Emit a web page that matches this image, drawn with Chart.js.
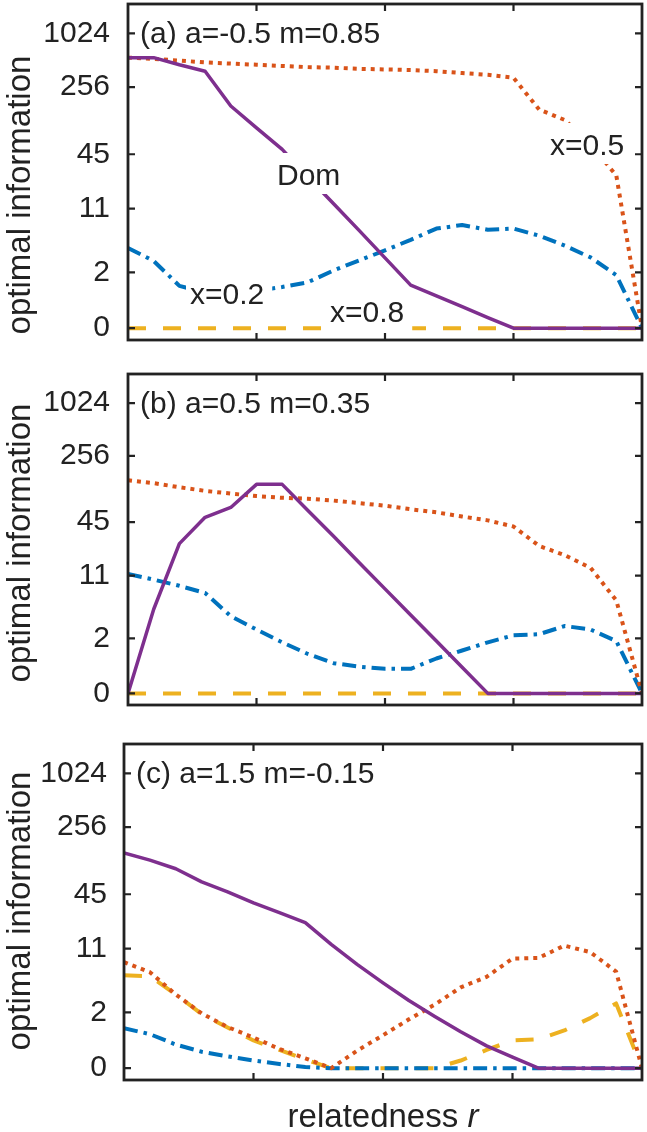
<!DOCTYPE html>
<html>
<head>
<meta charset="utf-8">
<script src="https://cdn.jsdelivr.net/npm/chart.js@4.4.0/dist/chart.umd.min.js"></script>
<style>
  body { margin: 0; background: #fff; width: 647px; height: 1132px; position: relative; overflow: hidden; }
  canvas { position: absolute; left: 0; }
</style>
</head>
<body>
<canvas id="panelA" width="647" height="360" style="top:0px"></canvas>
<canvas id="panelB" width="647" height="370" style="top:360px"></canvas>
<canvas id="panelC" width="647" height="402" style="top:730px"></canvas>
<script>
// x values (relatedness r) shared by every curve
const relatedness = [0, 0.05, 0.1, 0.15, 0.2, 0.25, 0.3, 0.35, 0.4, 0.45, 0.5,
                     0.55, 0.6, 0.65, 0.7, 0.75, 0.8, 0.85, 0.9, 0.95, 1];
const yTickValues = [0, 2, 11, 45, 256, 1024];
const xTickValues = [0.25, 0.5, 0.75];

// (a) a=-0.5 m=0.85
const domA = [548, 548, 456, 386, 157, 89, 51, 25, 12.5, 6.2, 3.0, 1.36, 0.94, 0.59, 0.28, 0, 0, 0, 0, 0, 0];
const x05A = [548, 531, 508, 485, 470, 456, 442, 429, 423, 410, 404, 398, 386, 368, 352, 326, 143, 109, 58, 26, 0];
const x02A = [3.92, 2.76, 1.33, 1.05, 1.05, 1.12, 1.28, 1.49, 2.12, 2.80, 3.68, 4.87, 6.54, 7.18, 6.35, 6.54, 5.43, 4.17, 3.04, 1.85, 0];
const x08A = [0, 0, 0, 0, 0, 0, 0, 0, 0, 0, 0, 0, 0, 0, 0, 0, 0, 0, 0, 0, 0];

// (b) a=0.5 m=0.35
const domB = [0, 4.5, 25.5, 51, 66, 121, 121, 61, 31, 15.4, 7.75, 3.86, 1.85, 0.74, 0, 0, 0, 0, 0, 0, 0];
const x05B = [135, 125, 112, 102, 95, 89, 85, 83, 79, 74, 69, 63, 58, 52, 47, 40, 24, 18.8, 13.5, 5.7, 0];
const x02B = [11.5, 9.9, 8.4, 6.95, 3.73, 2.58, 1.78, 1.23, 0.88, 0.76, 0.69, 0.69, 1.05, 1.38, 1.78, 2.19, 2.26, 2.85, 2.58, 1.85, 0];
const x08B = [0, 0, 0, 0, 0, 0, 0, 0, 0, 0, 0, 0, 0, 0, 0, 0, 0, 0, 0, 0, 0];

// (c) a=1.5 m=-0.15
const domC = [131, 109, 87, 62, 48, 36, 28, 21.6, 12.3, 7.3, 4.5, 2.8, 1.78, 1.09, 0.61, 0.29, 0, 0, 0, 0, 0];
const x05C = [7.75, 5.96, 3.29, 1.94, 1.28, 0.88, 0.52, 0.26, 0, 0.47, 0.96, 1.63, 2.5, 3.98, 5.27, 8.5, 8.63, 11.9, 10.06, 6.05, 0];
const x02C = [1.23, 1.0, 0.65, 0.44, 0.31, 0.2, 0.11, 0.03, 0, 0, 0, 0, 0, 0, 0, 0, 0, 0, 0, 0, 0];
const x08C = [5.5, 5.35, 3.29, 1.91, 1.26, 0.78, 0.49, 0.23, 0, 0, 0, 0, 0, 0.2, 0.49, 0.78, 0.82, 1.14, 1.69, 2.58, 0];

// Look
const INK = '#222222';
const FONT = '"Liberation Sans", Arial, sans-serif';
const PURPLE = '#7E2F8E';
const ORANGE = '#D95319';
const BLUE = '#0072BD';
const YELLOW = '#EDB120';

// y axis is asinh-scaled, like the original
const Y_TOP = Math.asinh(1024) * 1.1;
const Y_BOTTOM = -Math.asinh(1024) * 0.04;

function toPoints(values) {
    return values.map((v, i) => ({ x: relatedness[i], y: Math.asinh(v) }));
}

// frame, inward ticks, panel text and axis labels
const panelDecor = {
    id: 'panelDecor',
    afterDatasetsDraw(chart, args, opts) {
        const { ctx, chartArea: area, scales: { x, y } } = chart;
        ctx.save();

        ctx.font = '30px ' + FONT;
        ctx.textAlign = 'left';
        ctx.textBaseline = 'alphabetic';
        (opts.notes || []).forEach(n => {
            const w = ctx.measureText(n.text).width;
            ctx.fillStyle = '#fff';
            ctx.fillRect(n.x - 4, n.y - 32, w + 12, 41);
            ctx.fillStyle = INK;
            ctx.fillText(n.text, n.x, n.y);
        });
        ctx.fillStyle = INK;
        ctx.fillText(opts.tag, area.left + 12, area.top + 39);

        ctx.strokeStyle = INK;
        ctx.lineWidth = 2.2;
        ctx.beginPath();
        xTickValues.forEach(t => {
            const px = x.getPixelForValue(t);
            ctx.moveTo(px, area.bottom); ctx.lineTo(px, area.bottom - 7);
            ctx.moveTo(px, area.top); ctx.lineTo(px, area.top + 7);
        });
        yTickValues.forEach(v => {
            const py = y.getPixelForValue(Math.asinh(v));
            ctx.moveTo(area.left, py); ctx.lineTo(area.left + 7, py);
            ctx.moveTo(area.right, py); ctx.lineTo(area.right - 7, py);
        });
        ctx.stroke();

        ctx.lineWidth = 2.8;
        ctx.strokeRect(area.left, area.top, area.right - area.left, area.bottom - area.top);

        // y label
        ctx.save();
        ctx.translate(21, opts.ylabelY);
        ctx.rotate(-Math.PI / 2);
        ctx.font = '33px ' + FONT;
        ctx.textAlign = 'center';
        ctx.textBaseline = 'middle';
        ctx.fillText('optimal information', 0, 0);
        ctx.restore();

        // x label with italic r
        if (opts.xlabelY) {
            ctx.font = '33px ' + FONT;
            const a = 'relatedness ';
            const wa = ctx.measureText(a).width;
            ctx.font = 'italic 33px ' + FONT;
            const wb = ctx.measureText('r').width;
            const start = (area.left + area.right) / 2 - (wa + wb) / 2;
            ctx.font = '33px ' + FONT;
            ctx.fillText(a, start, opts.xlabelY);
            ctx.font = 'italic 33px ' + FONT;
            ctx.fillText('r', start + wa, opts.xlabelY);
        }
        ctx.restore();
    }
};

function makePanel(canvasId, frame, series, decor) {
    const canvas = document.getElementById(canvasId);
    const line = (values, color, width, dash, order) => ({
        data: toPoints(values),
        borderColor: color,
        borderWidth: width,
        borderDash: dash,
        borderCapStyle: 'butt',
        borderJoinStyle: 'round',
        pointRadius: 0,
        tension: 0,
        fill: false,
        order: order
    });

    return new Chart(canvas, {
        type: 'line',
        data: {
            datasets: [
                line(series.dom, PURPLE, 3.5, [], 0),
                line(series.x05, ORANGE, 4, [4, 5], 1),
                line(series.x02, BLUE, 4, [14, 6, 3.5, 6], 2),
                line(series.x08, YELLOW, 4, [18, 17], 3)
            ]
        },
        options: {
            responsive: false,
            animation: false,
            layout: {
                padding: { left: 0, right: canvas.width - 642, top: frame.top, bottom: canvas.height - frame.bottom }
            },
            scales: {
                x: { type: 'linear', min: 0, max: 1, display: false },
                y: {
                    type: 'linear',
                    min: Y_BOTTOM,
                    max: Y_TOP,
                    grid: { display: false, drawTicks: false },
                    border: { display: false },
                    afterBuildTicks: s => { s.ticks = yTickValues.map(v => ({ value: Math.asinh(v) })); },
                    afterFit: s => { s.width = frame.left; s.paddingTop = 0; s.paddingBottom = 0; },
                    ticks: {
                        padding: frame.left - frame.labelRight,
                        color: INK,
                        font: { family: FONT, size: 30 },
                        callback: (v, i) => String(yTickValues[i])
                    }
                }
            },
            plugins: {
                legend: { display: false },
                tooltip: { enabled: false },
                panelDecor: decor
            }
        },
        plugins: [panelDecor]
    });
}

makePanel('panelA', { top: 4, bottom: 340, left: 128, labelRight: 110 },
    { dom: domA, x05: x05A, x02: x02A, x08: x08A },
    {
        tag: '(a) a=-0.5 m=0.85',
        ylabelY: 195,
        notes: [
            { text: 'Dom', x: 277, y: 185 },
            { text: 'x=0.5', x: 550, y: 155 },
            { text: 'x=0.2', x: 190, y: 304 },
            { text: 'x=0.8', x: 330, y: 322 }
        ]
    });

makePanel('panelB', { top: 14, bottom: 345, left: 128, labelRight: 110 },
    { dom: domB, x05: x05B, x02: x02B, x08: x08B },
    { tag: '(b) a=0.5 m=0.35', ylabelY: 183 });

makePanel('panelC', { top: 14, bottom: 350, left: 124, labelRight: 107 },
    { dom: domC, x05: x05C, x02: x02C, x08: x08C },
    { tag: '(c) a=1.5 m=-0.15', ylabelY: 181, xlabelY: 397 });
</script>
</body>
</html>
